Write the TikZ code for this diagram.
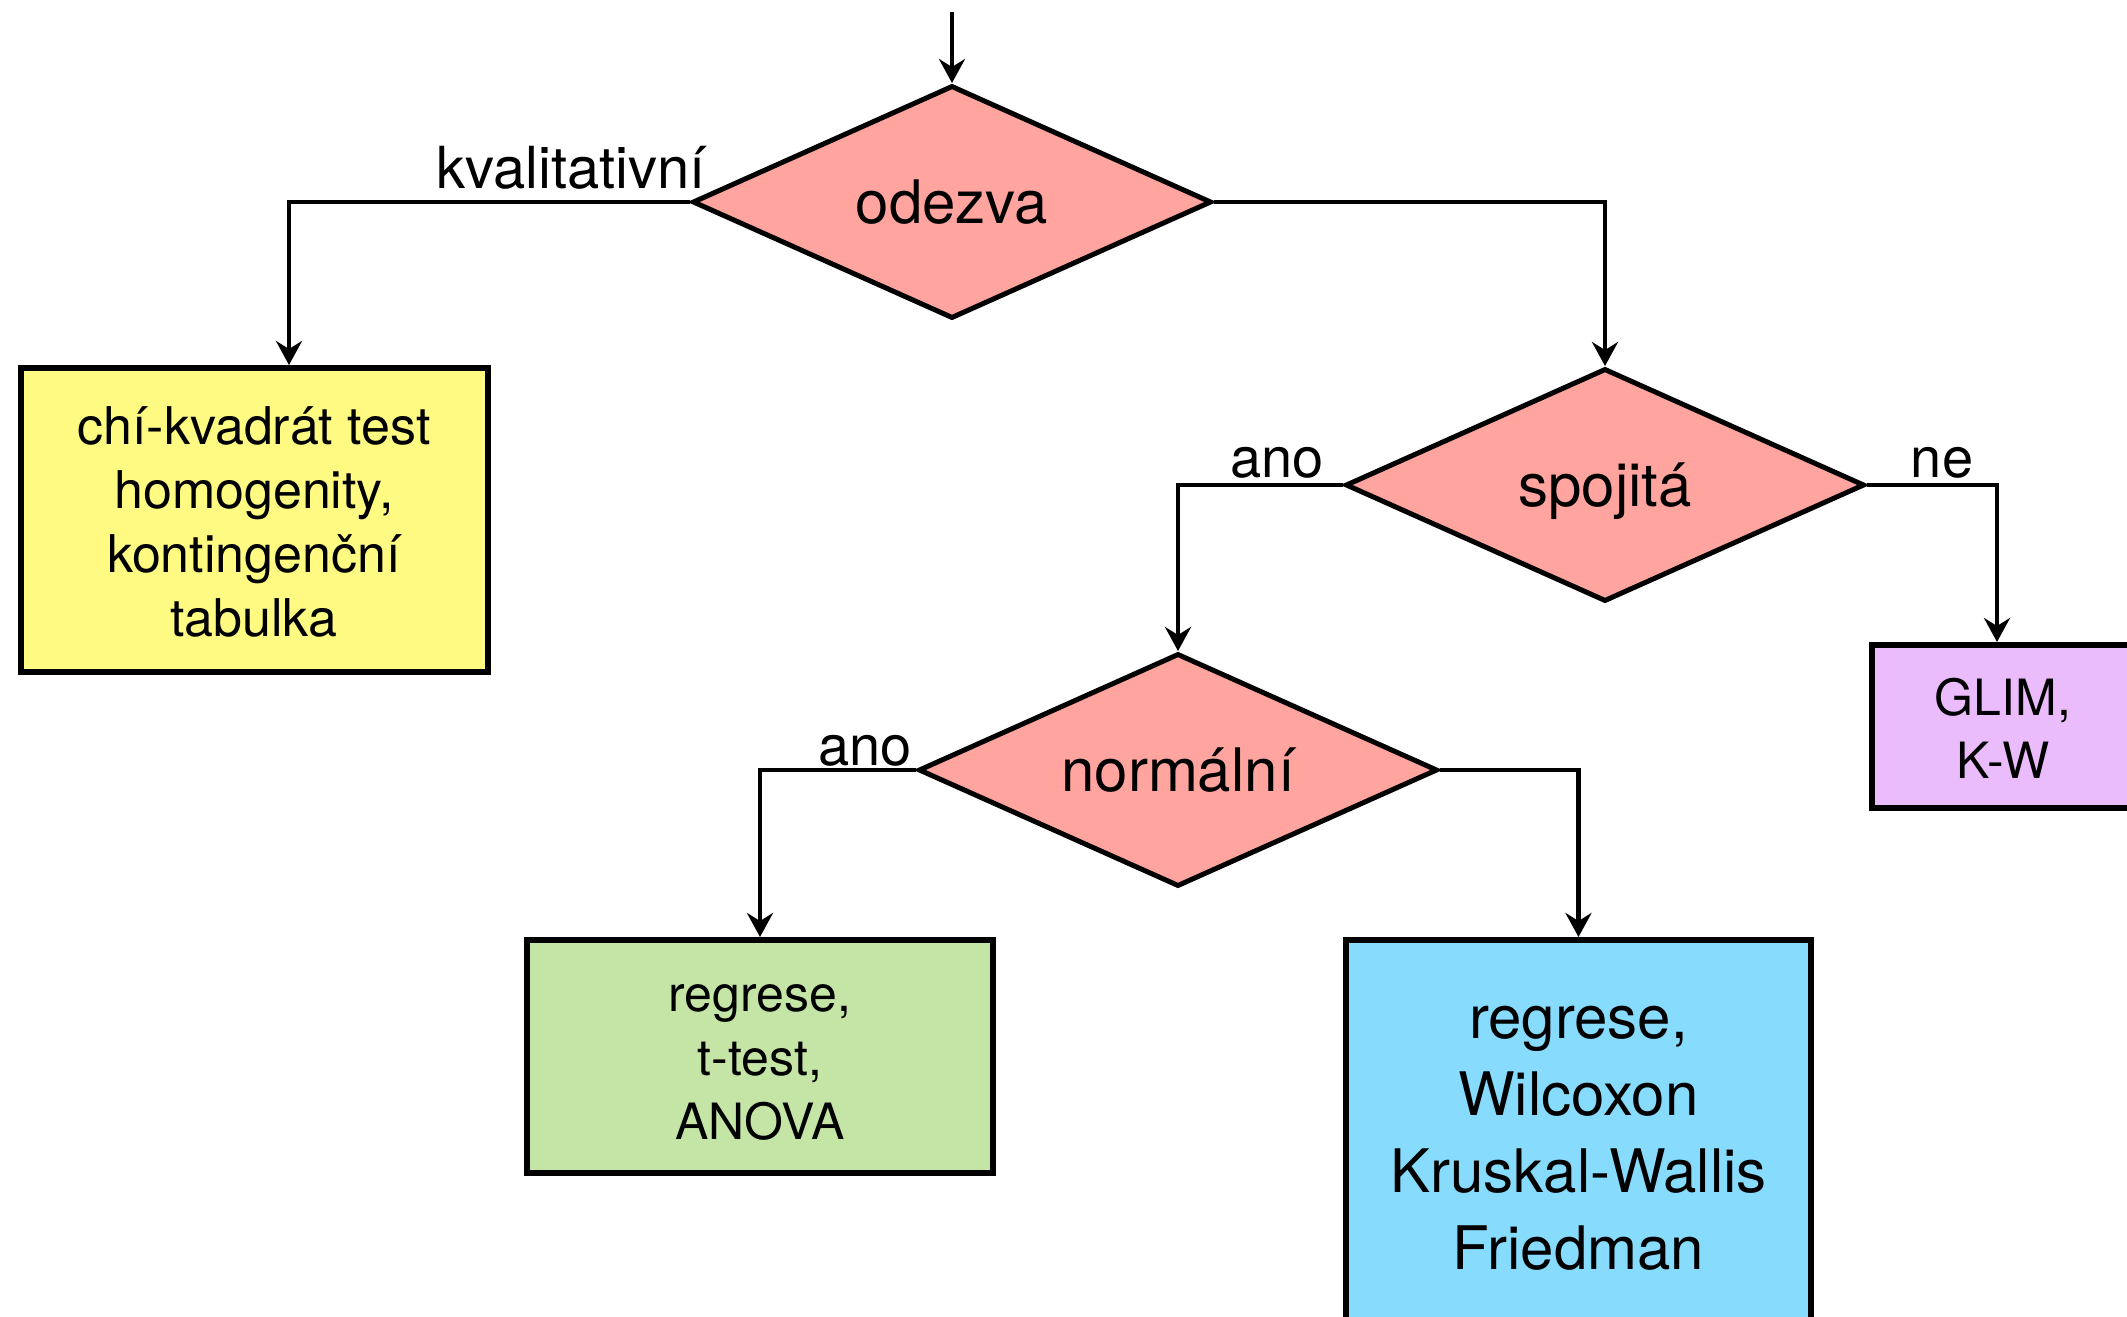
\documentclass[tikz,border=0pt]{standalone}
\usepackage{fontspec}
\setmainfont{TeX Gyre Heros}
\usetikzlibrary{shapes.geometric,arrows.meta}
\definecolor{diafill}{HTML}{FFA49F}
\definecolor{yelfill}{HTML}{FFFA81}
\definecolor{purfill}{HTML}{EBBCFC}
\definecolor{grnfill}{HTML}{C4E5A5}
\definecolor{blufill}{HTML}{87DCFE}
\begin{document}
\begin{tikzpicture}[x=0.5pt,y=-0.5pt,
  decision/.style={diamond, draw=black, line width=2.5pt, fill=diafill, inner sep=0pt,
    aspect=2.2, minimum width=259.5pt, minimum height=116.5pt, text depth=0pt,
    font=\fontsize{30}{36}\selectfont},
  resbox/.style={rectangle, draw=black, line width=3pt, inner sep=0pt, align=center},
  conn/.style={line width=2.25pt, -{Stealth[length=12pt,width=13pt,inset=4pt]}},
  lbl/.style={font=\fontsize{28}{34}\selectfont, inner sep=0pt, anchor=base}]
\useasboundingbox (0,0) rectangle (2127,1317);
\clip (0,0) rectangle (2127,1317);

% decisions
\node[decision] (odezva) at (952,202) {odezva};
\node[decision] (spojita) at (1605,485) {spojitá};
\node[decision] (normalni) at (1178,770) {normální};

% result boxes
\node[resbox, fill=yelfill, minimum width=233.5pt, minimum height=152pt,
  font=\fontsize{26}{32}\selectfont] (chi) at (254,520)
  {\rule{0pt}{21pt}chí-kvadrát test\\homogenity,\\kontingenční\\tabulka};
\node[resbox, fill=purfill, minimum width=131pt, minimum height=81.5pt,
  font=\fontsize{25}{31.5}\selectfont] (glim) at (2003,726.5)
  {\rule{0pt}{20pt}GLIM,\\K-W};
\node[resbox, fill=grnfill, minimum width=233pt, minimum height=116.5pt,
  font=\fontsize{25}{32}\selectfont] (param) at (760,1056.5)
  {\rule{0pt}{19.5pt}regrese,\\t-test,\\ANOVA};
\node[resbox, fill=blufill, minimum width=232.5pt, minimum height=192.5pt,
  font=\fontsize{30}{38.5}\selectfont] (nonpar) at (1578.5,1132.5)
  {\rule{0pt}{22pt}regrese,\\Wilcoxon\\Kruskal-Wallis\\Friedman};

% connectors
\coordinate (start) at (952,12);
\draw[conn] (start) -- (odezva.north);
\draw[conn] (odezva.west) -| ([xshift=17.5pt]chi.north);
\draw[conn] (odezva.east) -| (spojita.north);
\draw[conn] (spojita.west) -| (normalni.north);
\draw[conn] (spojita.east) -| ([xshift=-3pt]glim.north);
\draw[conn] (normalni.west) -| (param.north);
\draw[conn] (normalni.east) -| (nonpar.north);

% labels
\node[lbl, font=\fontsize{29}{34}\selectfont] (lkval) at (571,188) {kvalitativní};
\node[lbl] (lano1) at (1277,477) {ano};
\node[lbl] (lne) at (1942,477) {ne};
\node[lbl] (lano2) at (865,765) {ano};
\end{tikzpicture}
\end{document}
